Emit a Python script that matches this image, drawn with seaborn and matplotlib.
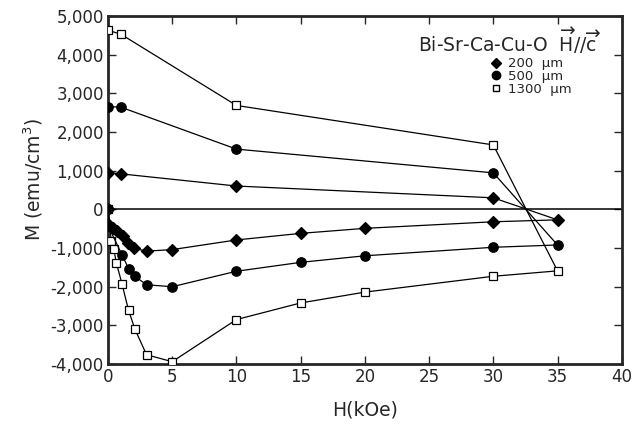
import matplotlib
matplotlib.use("Agg")
import matplotlib.pyplot as plt
import seaborn as sns
from matplotlib.lines import Line2D
from matplotlib.ticker import FuncFormatter

# ---- data (H in kOe, M in emu/cm^3), path order as drawn ----
H_200 = [0, 0, 0.4, 0.7, 1.15, 1.55, 2.05, 3, 5, 10, 15, 20, 30, 35, 30, 10, 1, 0]
M_200 = [0, -380, -470, -550, -690, -860, -1010, -1080, -1040, -790, -620, -490,
         -320, -270, 300, 605, 920, 950]

H_500 = [0, 0, 1.1, 1.6, 2.1, 3, 5, 10, 15, 20, 30, 35, 30, 10, 1, 0]
M_500 = [0, -420, -1180, -1530, -1730, -1950, -2000, -1600, -1370, -1200,
         -980, -920, 946, 1560, 2645, 2660]

H_1300 = [0, 0.25, 0.45, 0.65, 1.1, 1.6, 2.1, 3, 5, 10, 15, 20, 30, 35, 30, 10, 1, 0]
M_1300 = [0, -820, -1030, -1380, -1940, -2610, -3100, -3760, -3940, -2850, -2420,
          -2140, -1730, -1590, 1668, 2690, 4533, 4635]

labels = ["200  \u03bcm", "500  \u03bcm", "1300  \u03bcm"]
title_text = r"Bi-Sr-Ca-Cu-O  $\overrightarrow{\mathrm{H}}$//$\overrightarrow{\mathrm{c}}$"
x_ticks = [0, 5, 10, 15, 20, 25, 30, 35, 40]
y_ticks = [-4000, -3000, -2000, -1000, 0, 1000, 2000, 3000, 4000, 5000]

sns.set_style("ticks")
plt.rcParams["font.family"] = ["DejaVu Sans"]
plt.rcParams["mathtext.fontset"] = "dejavusans"

fig = plt.figure(figsize=(6.39, 4.25), dpi=100)
ax = fig.add_axes([0.169, 0.1435, 0.804, 0.8185])

ax.axhline(0, color="black", lw=1.1, zorder=1)

styles = [
    (H_1300, M_1300, "s", "white", 6.0),
    (H_200, M_200, "D", "black", 6.0),
    (H_500, M_500, "o", "black", 6.8),
]
for h, m, mk, fc, ms in styles:
    sns.lineplot(x=h, y=m, sort=False, estimator=None, ax=ax, color="black",
                 linewidth=0.9, marker=mk, markersize=ms, markerfacecolor=fc,
                 markeredgecolor="black", markeredgewidth=0.9, zorder=3)

ax.set_xlim(0, 40)
ax.set_ylim(-4000, 5000)
ax.set_xticks(x_ticks)
ax.set_yticks(y_ticks)
ax.xaxis.set_major_formatter(FuncFormatter(lambda v, p: f"{int(v)}"))
ax.yaxis.set_major_formatter(FuncFormatter(
    lambda v, p: ("-" if v < 0 else "") + f"{abs(int(v)):,}"))
ax.tick_params(axis="both", which="both", direction="in", length=6, width=1.0,
               top=True, right=True, labelsize=12, pad=3)
for s in ax.spines.values():
    s.set_linewidth(2.0)
    s.set_visible(True)

ax.set_xlabel("H(kOe)", fontsize=13.5, labelpad=10)
ax.set_ylabel("M (emu/cm$^3$)", fontsize=13.5)
ax.yaxis.set_label_coords(-0.122, 0.529)

ax.text(0.782, 0.93, title_text, transform=ax.transAxes, ha="center",
        va="center", fontsize=13.5)

handles = [
    Line2D([], [], ls="none", marker="D", color="black", markersize=5.5),
    Line2D([], [], ls="none", marker="o", color="black", markersize=6),
    Line2D([], [], ls="none", marker="s", markerfacecolor="white",
           markeredgecolor="black", markersize=4.5),
]
ax.legend(handles, labels, loc="upper left", bbox_to_anchor=(0.745, 0.882),
          frameon=False, fontsize=9.5, handlelength=0.8, handletextpad=0.5,
          labelspacing=-0.02, borderpad=0, borderaxespad=0)

fig.savefig("out.png", dpi=100)
